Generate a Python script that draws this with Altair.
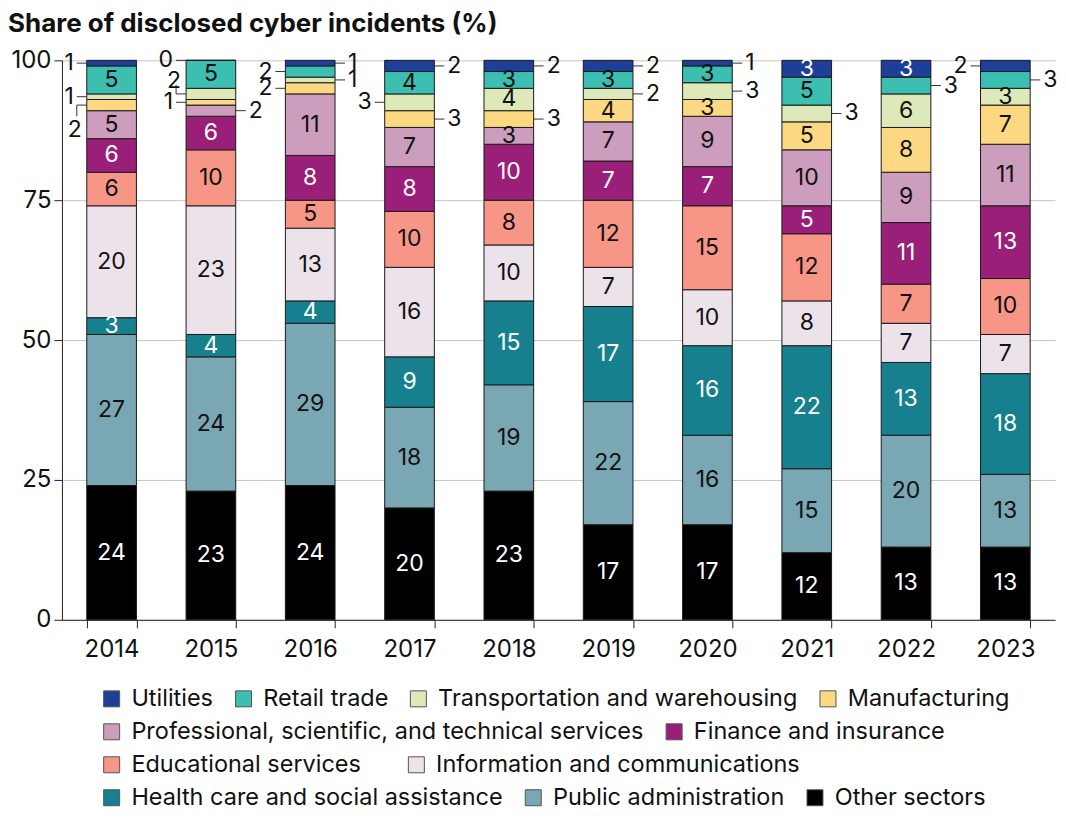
import altair as alt
import pandas as pd

years = ["2014", "2015", "2016", "2017", "2018", "2019", "2020", "2021", "2022", "2023"]
sectors = [
    "Utilities",
    "Retail trade",
    "Transportation and warehousing",
    "Manufacturing",
    "Professional, scientific, and technical services",
    "Finance and insurance",
    "Educational services",
    "Information and communications",
    "Health care and social assistance",
    "Public administration",
    "Other sectors",
]
colors = ["#1e3f98", "#3cbfb0", "#dde9b8", "#fdd882", "#cc9dbd", "#9a1f79",
          "#f79686", "#ece2ea", "#16808f", "#79a7b4", "#000000"]

utilities = [1, 0, 1, 2, 2, 2, 1, 3, 3, 2]
retail = [5, 5, 2, 4, 3, 3, 3, 5, 3, 3]
transport = [1, 2, 1, 3, 4, 2, 3, 3, 6, 3]
manufacturing = [2, 1, 2, 3, 3, 4, 3, 5, 8, 7]
professional = [5, 2, 11, 7, 3, 7, 9, 10, 9, 11]
finance = [6, 6, 8, 8, 10, 7, 7, 5, 11, 13]
education = [6, 10, 5, 10, 8, 12, 15, 12, 7, 10]
information = [20, 23, 13, 16, 10, 7, 10, 8, 7, 7]
health = [3, 4, 4, 9, 15, 17, 16, 22, 13, 18]
public = [27, 24, 29, 18, 19, 22, 16, 15, 20, 13]
other = [24, 23, 24, 20, 23, 17, 17, 12, 13, 13]

series = [utilities, retail, transport, manufacturing, professional, finance,
          education, information, health, public, other]

# label placement (style): which small segments get an outside label
outside = {
    ("2014", "Utilities"): "left",
    ("2014", "Transportation and warehousing"): "left",
    ("2014", "Manufacturing"): "elbow",
    ("2015", "Utilities"): "left",
    ("2015", "Transportation and warehousing"): "elbow",
    ("2015", "Manufacturing"): "left",
    ("2015", "Professional, scientific, and technical services"): "right",
    ("2016", "Utilities"): "right",
    ("2016", "Retail trade"): "left",
    ("2016", "Transportation and warehousing"): "right",
    ("2016", "Manufacturing"): "left",
    ("2017", "Utilities"): "right",
    ("2017", "Transportation and warehousing"): "left",
    ("2017", "Manufacturing"): "right",
    ("2018", "Utilities"): "right",
    ("2018", "Manufacturing"): "right",
    ("2019", "Utilities"): "right",
    ("2019", "Transportation and warehousing"): "right",
    ("2020", "Utilities"): "right",
    ("2020", "Transportation and warehousing"): "right",
    ("2021", "Transportation and warehousing"): "right",
    ("2022", "Retail trade"): "right",
    ("2023", "Utilities"): "left",
    ("2023", "Retail trade"): "right",
}
# elbow labels: (label level, end of vertical leader) in axis units
elbow = {
    ("2014", "Manufacturing"): (87.5, 90.0),
    ("2015", "Transportation and warehousing"): (96.3, 95.6),
}

rows = []
for yi, yr in enumerate(years):
    acc = 0
    for si in range(len(sectors) - 1, -1, -1):
        s = sectors[si]
        v = series[si][yi]
        pos = outside.get((yr, s), "inside")
        lab_y, line_end = elbow.get((yr, s), (acc + v / 2, acc + v / 2))
        rows.append(dict(year=yr, sector=s, value=v, y0=acc, y1=acc + v,
                         mid=acc + v / 2, pos=pos, lab_y=lab_y, line_end=line_end))
        acc += v
df = pd.DataFrame(rows)

FONT = "Inter"
W, H = 994, 560
STEP = W / len(years)
HALF = STEP * 0.5 / 2
LFS = 23  # bar label font size
dark = ["Utilities", "Finance and insurance", "Health care and social assistance", "Other sectors"]

xenc = alt.X("year:N", sort=years, title=None,
             scale=alt.Scale(paddingInner=0.5, paddingOuter=0.25),
             axis=alt.Axis(labelAngle=0, tickBand="extent", tickSize=8, labelPadding=10,
                           domainColor="#222", tickColor="#222", labelFontSize=24,
                           labelColor="#111", labelFont=FONT, grid=False))

base = alt.Chart(df)

bars = base.mark_bar(stroke="#1a1a1a", strokeWidth=1).encode(
    x=xenc,
    y=alt.Y("y0:Q", title=None, scale=alt.Scale(domain=[0, 100], nice=False),
            axis=alt.Axis(values=[0, 25, 50, 75, 100], tickSize=8, labelPadding=3,
                          domainColor="#222", tickColor="#222", gridColor="#c4c4c4",
                          labelFontSize=24, labelColor="#111", labelFont=FONT,
                          minExtent=54, maxExtent=54)),
    y2="y1:Q",
    color=alt.Color("sector:N", scale=alt.Scale(domain=sectors, range=colors), legend=None),
)

inside = base.transform_filter(alt.datum.pos == "inside").mark_text(
    font=FONT, fontSize=LFS, baseline="middle").encode(
    x=alt.X("year:N", sort=years),
    y="mid:Q",
    text="value:Q",
    color=alt.condition(alt.FieldOneOfPredicate(field="sector", oneOf=dark),
                        alt.value("white"), alt.value("#111")),
)

left_lab = base.transform_filter(alt.datum.pos == "left").mark_text(
    font=FONT, fontSize=LFS, baseline="middle", align="right", dx=-(HALF + 13),
    color="#111").encode(x=alt.X("year:N", sort=years), y="mid:Q", text="value:Q")
right_lab = base.transform_filter(alt.datum.pos == "right").mark_text(
    font=FONT, fontSize=LFS, baseline="middle", align="left", dx=HALF + 13,
    color="#111").encode(x=alt.X("year:N", sort=years), y="mid:Q", text="value:Q")
elbow_lab = base.transform_filter(alt.datum.pos == "elbow").mark_text(
    font=FONT, fontSize=LFS, baseline="middle", align="right", dx=-(HALF + 5),
    color="#111").encode(x=alt.X("year:N", sort=years), y="lab_y:Q", text="value:Q")

left_rule = base.transform_filter((alt.datum.pos == "left") | (alt.datum.pos == "elbow")).mark_rule(
    color="#333", strokeWidth=1, xOffset=-HALF, x2Offset=-(HALF + 10)).encode(
    x=alt.X("year:N", sort=years), x2="year:N", y="mid:Q")
right_rule = base.transform_filter(alt.datum.pos == "right").mark_rule(
    color="#333", strokeWidth=1, xOffset=HALF, x2Offset=HALF + 10).encode(
    x=alt.X("year:N", sort=years), x2="year:N", y="mid:Q")
elbow_rule = base.transform_filter(alt.datum.pos == "elbow").mark_rule(
    color="#333", strokeWidth=1, xOffset=-(HALF + 10)).encode(
    x=alt.X("year:N", sort=years), y="mid:Q", y2="line_end:Q")

legend_rows = [
    (sectors[0:4], 18),
    (sectors[4:6], 18),
    (sectors[6:8], 43),
    (sectors[8:11], 18),
]
legend_layers = []
for i, (names, cpad) in enumerate(legend_rows):
    cols = [colors[sectors.index(n)] for n in names]
    legend_layers.append(
        base.transform_filter("false").mark_bar(stroke="#555", strokeWidth=1).encode(
            color=alt.Color("sector:N", scale=alt.Scale(domain=names, range=cols),
                            legend=alt.Legend(orient="none", legendX=38, legendY=H + 67 + i * 33,
                                              direction="horizontal", columns=len(names),
                                              title=None, symbolType="square", symbolSize=256,
                                              symbolStrokeColor="#555", symbolStrokeWidth=1,
                                              labelFontSize=23.5, labelFont=FONT, labelColor="#111",
                                              labelOffset=8, columnPadding=cpad, labelLimit=0,
                                              padding=0))
        )
    )

chart = alt.layer(bars, inside, left_rule, right_rule, elbow_rule, left_lab, right_lab, elbow_lab,
                  *legend_layers).resolve_scale(color="independent").properties(
    width=W, height=H, padding={"left": 0, "top": 3, "right": 0, "bottom": 0},
    title=alt.TitleParams("Share of disclosed cyber incidents (%)", anchor="start",
                          font=FONT, fontSize=26, fontWeight="bold", color="#111", offset=11),
).configure_view(stroke=None)

chart.save("out.html", embed_options={"renderer": "svg", "actions": False})
